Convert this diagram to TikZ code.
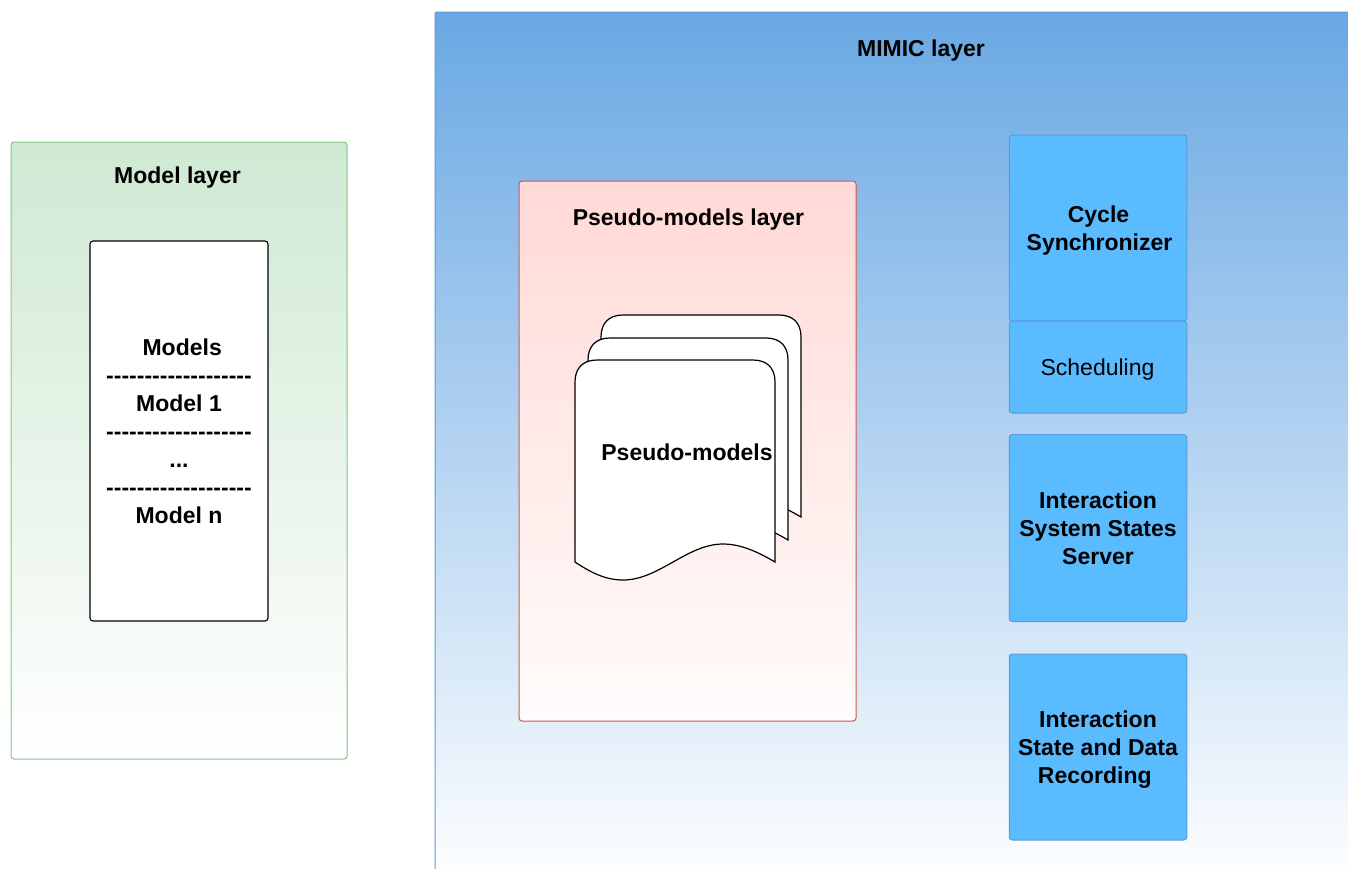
\documentclass[tikz,border=0pt]{standalone}
\usepackage{fontspec}
\newfontfamily\lib{Liberation Sans}
\definecolor{bluetop}{HTML}{69A8E3}
\definecolor{blueline}{HTML}{5B9BD5}
\definecolor{greentop}{HTML}{CFE9D3}
\definecolor{greenline}{HTML}{82C77D}
\definecolor{redtop}{HTML}{FFD9D5}
\definecolor{redbot}{HTML}{FFFCFB}
\definecolor{redline}{HTML}{D9534F}
\definecolor{unitfill}{HTML}{5BBBFF}
\definecolor{unitline}{HTML}{5C9BD6}
\tikzset{
  x=1pt,y=-1pt,
  txt/.style={font=\lib\fontsize{23}{28}\selectfont,align=center,text=black,inner sep=0pt},
  boldtxt/.style={font=\lib\bfseries\fontsize{23}{28}\selectfont,align=center,text=black,inner sep=0pt},
  panel/.style={rectangle,rounded corners=3pt,line width=1pt,inner sep=0pt,outer sep=0pt},
  greenpanel/.style={panel,draw=greenline,top color=greentop,bottom color=white},
  redpanel/.style={panel,draw=redline,top color=redtop,bottom color=redbot},
  bluepanel/.style={panel,draw=blueline,top color=bluetop,bottom color=white,rounded corners=2pt},
  unitbox/.style={panel,boldtxt,draw=unitline,fill=unitfill,minimum width=177.5pt},
  modelbox/.style={panel,boldtxt,draw=black,fill=white,line width=1.1pt},
  sheet/.style={draw=black,fill=white,line width=1.2pt},
}
\newcommand{\docsheet}[2]{%
  \draw[sheet,shift={(#1,#2)}] (0,22) .. controls (0,8) and (8,0) .. (22,0) -- (178,0)
    .. controls (192,0) and (200,8) .. (200,22) -- (200,202)
    .. controls (183,192) and (166,184) .. (148,184)
    .. controls (112,184) and (84,220) .. (48,220)
    .. controls (30,220) and (15,212) .. (0,202) -- cycle;}
\newcommand{\lowered}{\rule{0pt}{22.5pt}}
\begin{document}
\begin{tikzpicture}
\useasboundingbox (0,0) rectangle (1348,868);
\clip (0,0) rectangle (1348,868);
% MIMIC layer
\node[bluepanel,minimum width=972pt,minimum height=876pt] (mimic) at (921,450) {};
\node[boldtxt] (mimictitle) at (921,51) {MIMIC layer};
% Model layer
\node[greenpanel,minimum width=336pt,minimum height=617pt] (model) at (179,450.5) {};
\node[boldtxt] (modeltitle) at (177.5,178) {Model layer};
\node[modelbox,minimum width=178pt,minimum height=380pt] (models) at (179,431)
  {\hspace*{6.4pt}Models\\-{}-{}-{}-{}-{}-{}-{}-{}-{}-{}-{}-{}-{}-{}-{}-{}-{}-{}-\\Model 1\\-{}-{}-{}-{}-{}-{}-{}-{}-{}-{}-{}-{}-{}-{}-{}-{}-{}-{}-\\...\\-{}-{}-{}-{}-{}-{}-{}-{}-{}-{}-{}-{}-{}-{}-{}-{}-{}-{}-\\Model n};
% Pseudo-models layer
\node[redpanel,minimum width=337pt,minimum height=540pt] (pseudo) at (687.5,451) {};
\node[boldtxt] (pseudotitle) at (688.5,220) {Pseudo-models layer};
\docsheet{601}{315}
\docsheet{588}{338}
\docsheet{575}{360}
\node[boldtxt] (pseudotext) at (687,452) {Pseudo-models};
% MIMIC units
\node[unitbox,minimum height=186pt] (cycle) at (1098,228) {\lowered\hspace*{1pt}Cycle\\\hspace*{3pt}Synchronizer};
\node[unitbox,minimum height=92pt,font=\lib\fontsize{23}{28}\selectfont] (sched) at (1098,367) {\lowered\hspace*{-1pt}Scheduling};
\node[unitbox,minimum height=187pt] (server) at (1098,528) {Interaction\\System States\\Server};
\node[unitbox,minimum height=186pt] (record) at (1098,747) {\lowered Interaction\\State and Data\\Recording\hspace*{6.4pt}};
\end{tikzpicture}
\end{document}
